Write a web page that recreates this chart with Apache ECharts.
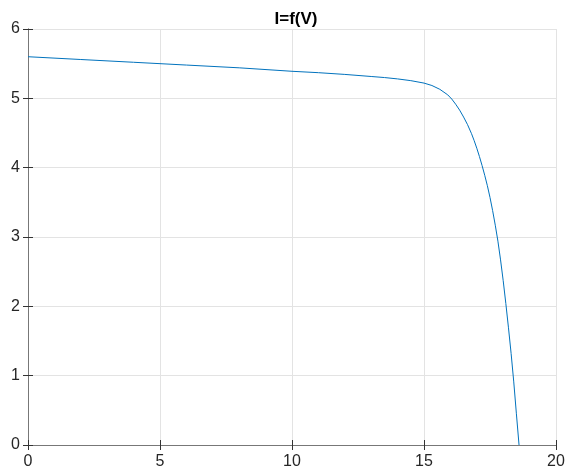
<!DOCTYPE html>
<html>
<head>
<meta charset="utf-8">
<script src="https://cdn.jsdelivr.net/npm/echarts@6/dist/echarts.min.js"></script>
<style>
  html, body { margin: 0; padding: 0; background: #fff; }
  #chart { width: 570px; height: 472px; }
</style>
</head>
<body>
<div id="chart"></div>
<script>
// voltage (V) and current (A)
var voltage = [0, 2, 4, 6, 8, 10, 11, 12, 13, 13.5, 14, 14.5, 15, 15.3, 15.6, 15.9, 16.05, 16.2, 16.35, 16.5, 16.65, 16.8, 16.9, 17.0, 17.1, 17.2, 17.3, 17.4, 17.5, 17.6, 17.7, 17.8, 17.9, 18.0, 18.1, 18.2, 18.3, 18.4, 18.5, 18.6];
var current = [5.60, 5.56, 5.52, 5.48, 5.44, 5.39, 5.37, 5.345, 5.315, 5.30, 5.28, 5.255, 5.22, 5.185, 5.13, 5.05, 4.99, 4.915, 4.83, 4.73, 4.62, 4.49, 4.39, 4.28, 4.16, 4.03, 3.89, 3.74, 3.57, 3.38, 3.17, 2.94, 2.67, 2.37, 2.04, 1.69, 1.32, 0.91, 0.45, 0];
var xTicks = [0, 5, 10, 15, 20];
var yTicks = [0, 1, 2, 3, 4, 5, 6];

var chart = echarts.init(document.getElementById('chart'));

var pts = [];
for (var i = 0; i < voltage.length; i++) pts.push([voltage[i], current[i]]);

var axisCol = '#777';
var font = 'Arial, "Liberation Sans", Helvetica, sans-serif';

var option = {
  animation: false,
  title: {
    text: 'I=f(V)',
    left: 291,
    textAlign: 'center',
    top: 6,
    textStyle: { fontSize: 17, fontWeight: 'bold', color: '#000', fontFamily: font }
  },
  grid: { left: 28, right: 14, top: 29, bottom: 27 },
  xAxis: [{
    type: 'value', min: xTicks[0], max: xTicks[xTicks.length - 1], interval: 5,
    axisLine: { show: true, lineStyle: { color: axisCol, width: 1 } },
    axisTick: { show: true, inside: true, length: 5, lineStyle: { color: '#333' } },
    axisLabel: { color: '#262626', fontSize: 16, margin: 9, fontFamily: font },
    splitLine: { show: true, lineStyle: { color: '#e3e3e3', width: 1 } }
  }, {
    type: 'value', position: 'top', min: xTicks[0], max: xTicks[xTicks.length - 1], interval: 5,
    axisLine: { show: true, lineStyle: { color: axisCol, width: 1 } },
    axisTick: { show: true, inside: true, length: 5, lineStyle: { color: '#333' } },
    axisLabel: { show: false },
    splitLine: { show: false }
  }],
  yAxis: [{
    type: 'value', min: yTicks[0], max: yTicks[yTicks.length - 1], interval: 1,
    axisLine: { show: true, lineStyle: { color: axisCol, width: 1 } },
    axisTick: { show: true, inside: true, length: 5, lineStyle: { color: '#333' } },
    axisLabel: { color: '#262626', fontSize: 16, margin: 8, fontFamily: font },
    splitLine: { show: true, lineStyle: { color: '#e3e3e3', width: 1 } }
  }, {
    type: 'value', position: 'right', min: yTicks[0], max: yTicks[yTicks.length - 1], interval: 1,
    axisLine: { show: true, lineStyle: { color: axisCol, width: 1 } },
    axisTick: { show: true, inside: true, length: 5, lineStyle: { color: '#333' } },
    axisLabel: { show: false },
    splitLine: { show: false }
  }],
  series: [{
    type: 'line',
    data: pts,
    smooth: false,
    showSymbol: false,
    lineStyle: { color: '#0072BD', width: 1 }
  }]
};

chart.setOption(option);
</script>
</body>
</html>
